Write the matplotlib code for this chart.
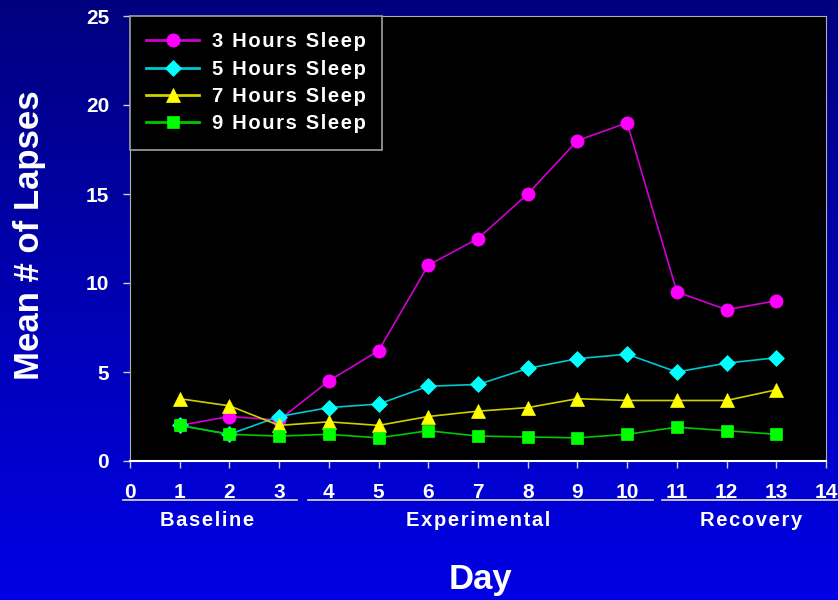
import numpy as np
import matplotlib
matplotlib.use('Agg')
import matplotlib.pyplot as plt
from matplotlib.lines import Line2D
import matplotlib.transforms as mtransforms

plt.rcParams['font.family'] = ['Liberation Sans', 'DejaVu Sans']
plt.rcParams['font.weight'] = 'bold'

# data
days = [1, 2, 3, 4, 5, 6, 7, 8, 9, 10, 11, 12, 13]
sleep_3h = [2.0, 2.5, 2.3, 4.5, 6.2, 11.0, 12.5, 15.0, 18.0, 19.0, 9.5, 8.5, 9.0]
sleep_5h = [2.0, 1.5, 2.5, 3.0, 3.2, 4.2, 4.3, 5.2, 5.75, 6.0, 5.0, 5.5, 5.8]
sleep_7h = [3.5, 3.1, 2.0, 2.2, 2.0, 2.5, 2.8, 3.0, 3.5, 3.4, 3.4, 3.4, 4.0]
sleep_9h = [2.0, 1.5, 1.4, 1.5, 1.3, 1.7, 1.4, 1.35, 1.3, 1.5, 1.9, 1.7, 1.5]
labels = ['3 Hours Sleep', '5 Hours Sleep', '7 Hours Sleep', '9 Hours Sleep']
x_ticks = list(range(0, 15))
y_ticks = [0, 5, 10, 15, 20, 25]
groups = ['Baseline', 'Experimental', 'Recovery']
group_spans = [(-0.14, 3.35), (3.59, 10.52), (10.71, 14.3)]
group_centers = [1.55, 7.0, 12.5]


def spaced(s):
    # the slide font has a bit of letter spacing, fake it with hair spaces
    return '\u200a'.join(s)


fig = plt.figure(figsize=(8.38, 6.0), dpi=100)

# blue gradient background
bg = fig.add_axes([0, 0, 1, 1], zorder=-10)
grad = np.linspace(0, 1, 256).reshape(-1, 1)
top = np.array([0.0, 0.0, 0.50])
bot = np.array([0.0, 0.0, 0.90])
img = top + (bot - top) * grad[:, :, None]
bg.imshow(img, aspect='auto', extent=[0, 1, 0, 1])
bg.axis('off')

ax = fig.add_axes([130 / 838, 1 - 461 / 600, 696 / 838, 445 / 600])
ax.set_facecolor('black')

styles = [
    (sleep_3h, '#D000D0', '#FF00FF', 'o', 9.5),
    (sleep_5h, '#00C8D0', '#00FFFF', 'D', 8.0),
    (sleep_7h, '#D0D000', '#FFFF00', '^', 10.0),
    (sleep_9h, '#00C800', '#00FF00', 's', 8.5),
]
for (vals, lc, mc, m, ms), lab in zip(styles, labels):
    ax.plot(days, vals, color=lc, linewidth=1.2, marker=m, markersize=ms,
            markerfacecolor=mc, markeredgecolor=mc, markeredgewidth=0.5,
            label=spaced(lab))

ax.set_xlim(0, 14)
ax.set_ylim(0, 25)
ax.set_xticks(x_ticks)
ax.set_yticks(y_ticks)
ax.tick_params(axis='both', colors='#D0D0D0', length=5, width=1,
               labelcolor='white', labelsize=15)
ax.tick_params(axis='x', pad=11)
ax.tick_params(axis='y', pad=10)
for lab in ax.get_xticklabels() + ax.get_yticklabels():
    lab.set_fontweight('bold')
for side in ['left', 'top', 'right']:
    ax.spines[side].set_color('#B0B0B0')
ax.spines['bottom'].set_color('white')
ax.spines['bottom'].set_linewidth(1.5)

leg = ax.legend(loc='upper left', bbox_to_anchor=(0, 1), borderaxespad=0,
                fancybox=False, framealpha=1, facecolor='black',
                edgecolor='#A0A0A0', prop={'size': 14.5, 'weight': 'bold'},
                handlelength=2.65, handletextpad=0.6, labelspacing=0.42,
                borderpad=0.8)
for t in leg.get_texts():
    t.set_color('white')
for ln in leg.get_lines():
    ln.set_linewidth(2.0)
leg.get_frame().set_linewidth(1.2)

# group labels under the x axis
trans = mtransforms.blended_transform_factory(ax.transData, ax.transAxes)
for name, (x0, x1), xc in zip(groups, group_spans, group_centers):
    ax.add_line(Line2D([x0, x1], [-0.0876, -0.0876], transform=trans,
                       color='#E0E0E0', linewidth=1.2, clip_on=False))
    ax.text(xc, -0.133, spaced(name), transform=trans, ha='center',
            va='center', color='white', fontsize=14.5, fontweight='bold')

fig.text(480 / 838, 1 - 580 / 600, 'Day', ha='center', va='center',
         color='white', fontsize=25, fontweight='bold')
fig.text(30 / 838, 1 - 235 / 600, 'Mean # of Lapses', ha='center',
         va='center', rotation=90, color='white', fontsize=25,
         fontweight='bold')

fig.savefig('out.png', dpi=100)
